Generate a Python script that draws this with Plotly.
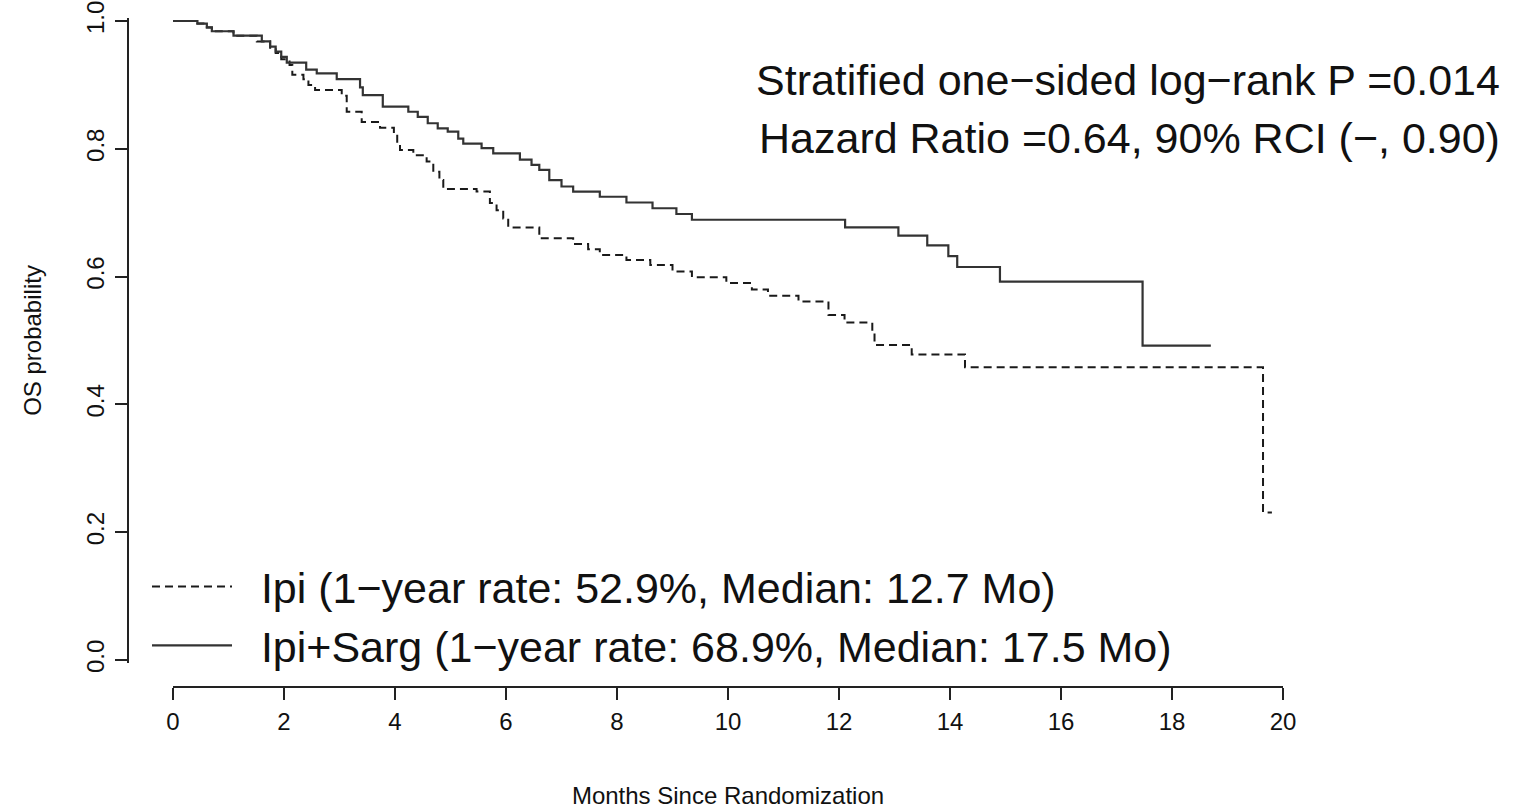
import plotly.graph_objects as go

# ---- data ----
ipi_time = [0, 0.44, 0.61, 0.70, 1.09, 1.51, 1.75, 1.85, 1.95, 2.10, 2.15, 2.35, 2.44, 2.56,
            3.04, 3.13, 3.40, 3.73, 3.98, 4.04, 4.09, 4.33, 4.57, 4.69, 4.80, 4.87, 5.47, 5.71,
            5.83, 5.95, 6.04, 6.60, 7.21, 7.48, 7.69, 8.17, 8.60, 9.00, 9.35, 9.97, 10.43,
            10.72, 11.27, 11.81, 12.10, 12.60, 12.64, 13.31, 14.27, 19.64, 19.80]
ipi_surv = [1.0, 0.996, 0.990, 0.984, 0.977, 0.968, 0.958, 0.950, 0.940, 0.931, 0.916, 0.909, 0.900, 0.892,
            0.883, 0.858, 0.842, 0.833, 0.824, 0.811, 0.798, 0.790, 0.780, 0.764, 0.751, 0.737, 0.733, 0.715,
            0.704, 0.691, 0.677, 0.660, 0.651, 0.643, 0.634, 0.626, 0.618, 0.608, 0.599, 0.590, 0.580,
            0.570, 0.561, 0.540, 0.528, 0.511, 0.493, 0.478, 0.458, 0.231, 0.231]

sarg_time = [0, 0.44, 0.61, 0.70, 1.09, 1.60, 1.75, 1.85, 1.95, 2.05, 2.40, 2.59, 2.95, 3.37, 3.42,
             3.78, 4.24, 4.41, 4.59, 4.77, 4.95, 5.14, 5.23, 5.56, 5.77, 6.25, 6.46, 6.60, 6.78,
             7.00, 7.21, 7.69, 8.17, 8.64, 9.07, 9.35, 12.11, 13.07, 13.59, 13.97, 14.13, 14.90,
             17.47, 18.70]
sarg_surv = [1.0, 0.996, 0.990, 0.984, 0.977, 0.968, 0.960, 0.952, 0.944, 0.935, 0.924, 0.918, 0.909, 0.896, 0.884,
             0.866, 0.858, 0.850, 0.840, 0.832, 0.827, 0.816, 0.808, 0.801, 0.793, 0.783, 0.775, 0.767, 0.751,
             0.741, 0.733, 0.725, 0.716, 0.707, 0.698, 0.689, 0.677, 0.664, 0.649, 0.632, 0.615, 0.592,
             0.492, 0.492]

x_ticks = [0, 2, 4, 6, 8, 10, 12, 14, 16, 18, 20]
y_ticks = [0.0, 0.2, 0.4, 0.6, 0.8, 1.0]
y_tick_labels = ["0.0", "0.2", "0.4", "0.6", "0.8", "1.0"]

ipi_name = "Ipi (1\u2212year rate: 52.9%, Median: 12.7 Mo)"
sarg_name = "Ipi+Sarg (1\u2212year rate: 68.9%, Median: 17.5 Mo)"
stat_lines = ["Stratified one\u2212sided log\u2212rank P =0.014",
              "Hazard Ratio =0.64, 90% RCI (\u2212, 0.90)"]

W, H = 1514, 809
FONT = "Liberation Sans, Arial, sans-serif"
LEAD = "\u00a0\u00a0"  # small lead-in gap between legend key and text

def px_x(p):
    return p / W

def px_y(p):
    return 1 - p / H

fig = go.Figure()
fig.add_trace(go.Scatter(x=ipi_time, y=ipi_surv, mode="lines", line_shape="hv",
                         line=dict(color="#1a1a1a", width=2, dash="8px,5px"), name=LEAD + ipi_name))
fig.add_trace(go.Scatter(x=sarg_time, y=sarg_surv, mode="lines", line_shape="hv",
                         line=dict(color="#333333", width=2.2), name=LEAD + sarg_name))

pad = 0.005
ypad_px = pad * 639
fig.update_layout(
    width=W, height=H, autosize=False,
    margin=dict(l=0, r=0, t=0, b=0, autoexpand=False),
    paper_bgcolor="white", plot_bgcolor="white",
    font=dict(family=FONT, color="#111111"),
    showlegend=True,
    legend=dict(x=px_x(147), y=px_y(552), xanchor="left", yanchor="top",
                bgcolor="rgba(0,0,0,0)", font=dict(size=43, family=FONT, color="#111111"),
                itemwidth=80, tracegroupgap=0),
    xaxis=dict(domain=[px_x(173), px_x(1283)], range=[0, 20], anchor="free",
               position=px_y(687), showgrid=False, zeroline=False, showline=True,
               automargin=False, ticklabeloverflow="allow",
               linecolor="#222222", linewidth=1.5, ticks="outside", ticklen=12,
               tickwidth=1.5, tickcolor="#222222", tickvals=x_ticks,
               tickfont=dict(size=24, family=FONT, color="#111111"), ticklabelstandoff=1,
               title=dict(text="Months Since Randomization", standoff=58,
                          font=dict(size=24, family=FONT, color="#111111"))),
    yaxis=dict(domain=[px_y(660 + ypad_px), px_y(21 - ypad_px)], range=[-pad, 1 + pad], anchor="free",
               position=px_x(128), showgrid=False, zeroline=False, showline=True,
               automargin=False, ticklabeloverflow="allow",
               linecolor="#222222", linewidth=1.5, ticks="outside", ticklen=12,
               tickwidth=1.5, tickcolor="#222222", tickvals=y_ticks, ticktext=y_tick_labels,
               tickangle=-90, tickfont=dict(size=24, family=FONT, color="#111111"),
               ticklabelstandoff=2,
               title=dict(text="OS probability", standoff=32,
                          font=dict(size=24, family=FONT, color="#111111"))),
    annotations=[
        dict(text=stat_lines[0], x=px_x(1502), y=px_y(80), xref="paper", yref="paper",
             xanchor="right", yanchor="middle", showarrow=False,
             font=dict(size=43, family=FONT, color="#111111")),
        dict(text=stat_lines[1], x=px_x(1502), y=px_y(138), xref="paper", yref="paper",
             xanchor="right", yanchor="middle", showarrow=False,
             font=dict(size=43, family=FONT, color="#111111")),
    ],
)

# remove the default page margin so the figure sits at the window's top-left corner
fig.write_html("out.html", config={"displayModeBar": False},
               post_script="document.body.style.margin='0';")
